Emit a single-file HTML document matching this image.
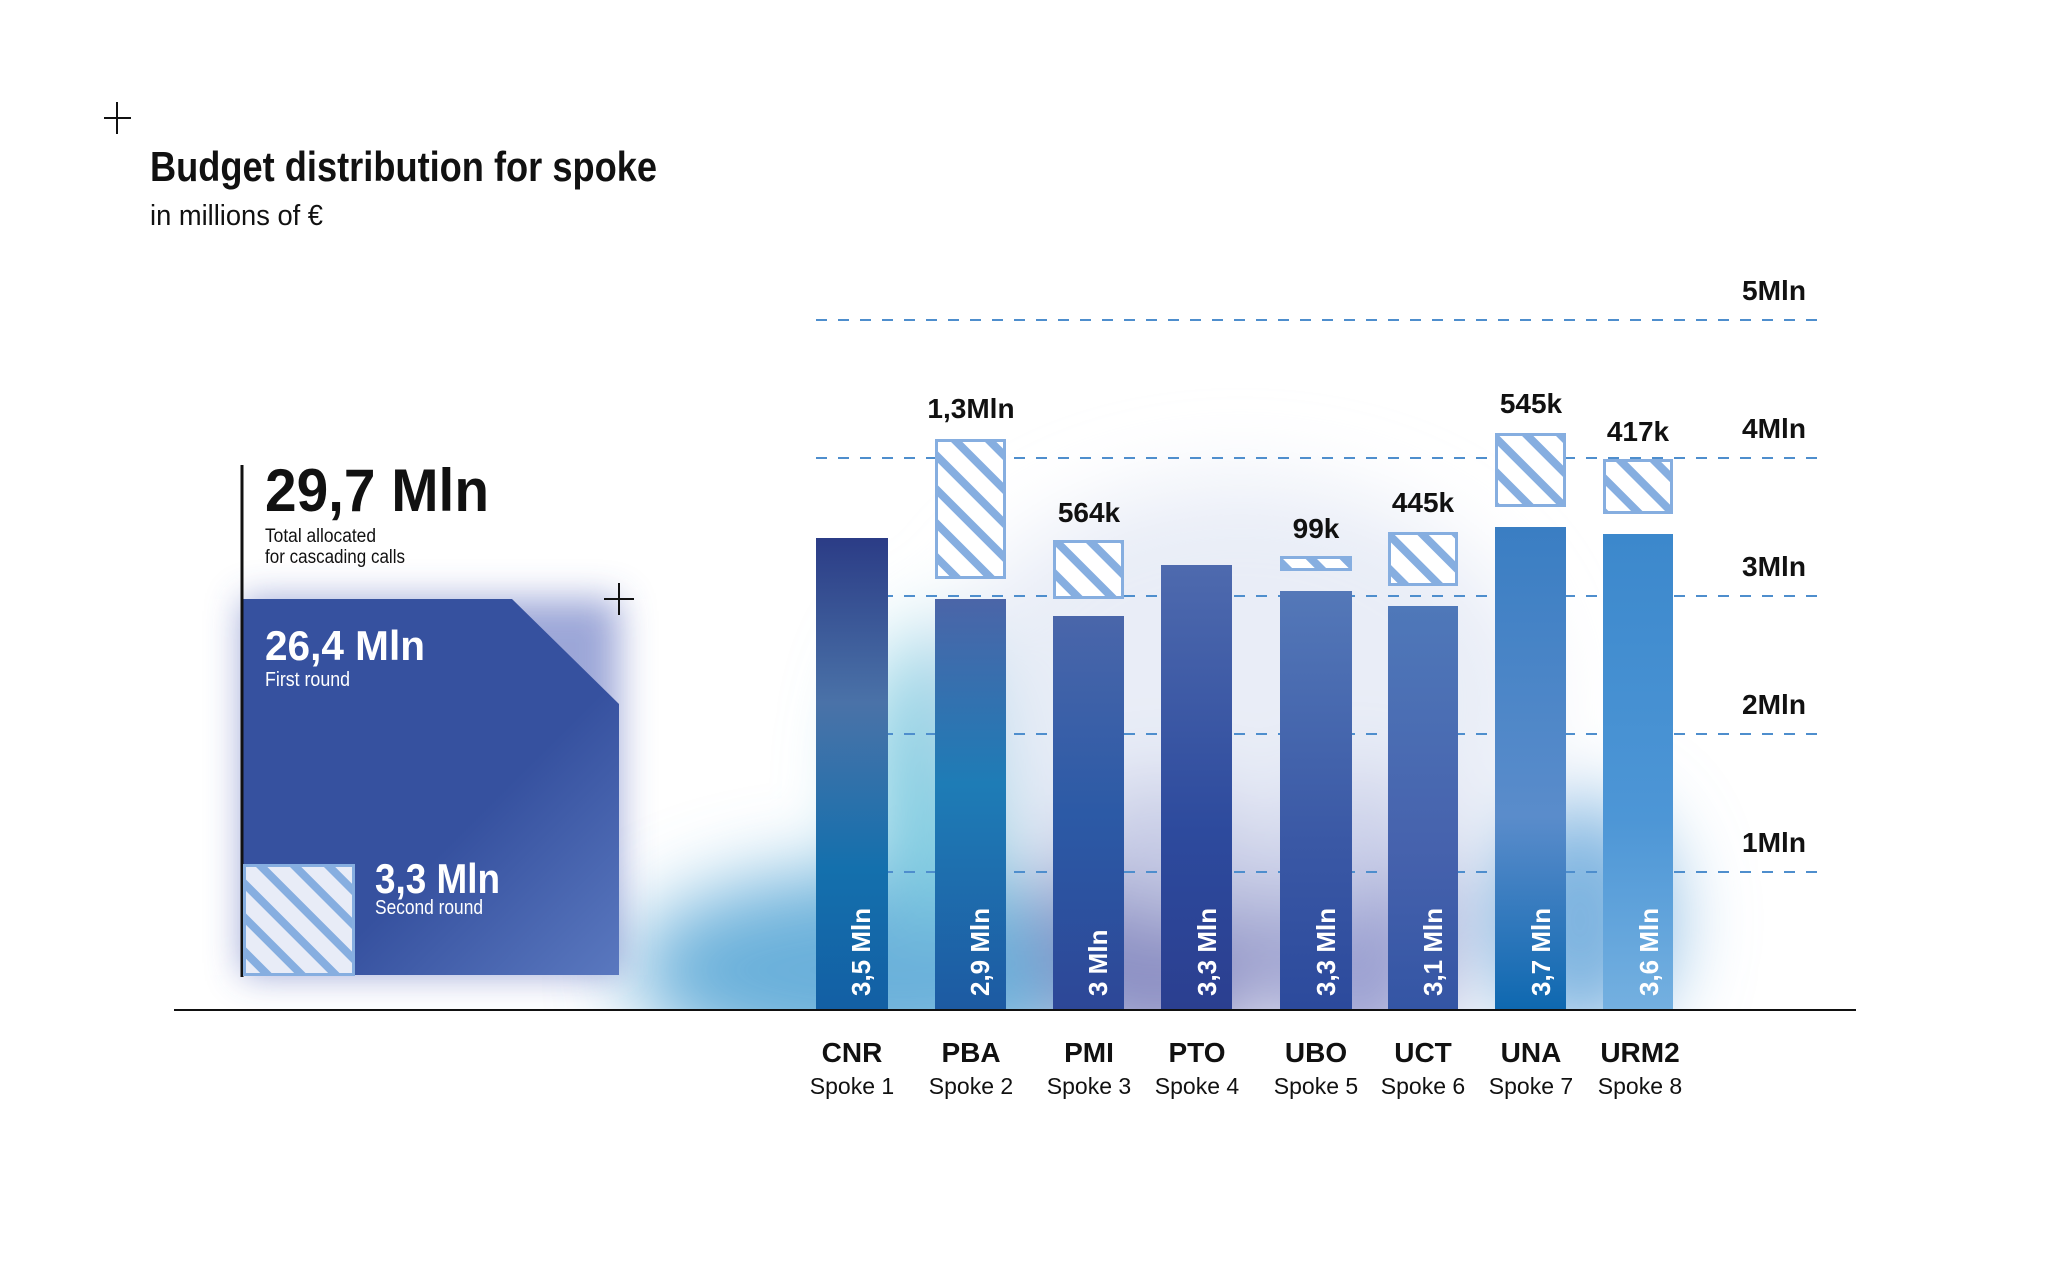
<!DOCTYPE html>
<html><head><meta charset="utf-8"><style>
html,body{margin:0;padding:0;background:#fff;}
svg{display:block;}
text{font-family:"Liberation Sans",sans-serif;}
</style></head><body>
<svg width="2048" height="1264" viewBox="0 0 2048 1264" xmlns="http://www.w3.org/2000/svg">
<defs>
<filter id="b40" x="-50%" y="-50%" width="200%" height="200%"><feGaussianBlur stdDeviation="40"/></filter>
<filter id="b20" x="-50%" y="-50%" width="200%" height="200%"><feGaussianBlur stdDeviation="18"/></filter>
<clipPath id="above"><rect x="0" y="0" width="2048" height="1010"/></clipPath>
<pattern id="hatch" patternUnits="userSpaceOnUse" width="24" height="24" patternTransform="rotate(-45)">
<rect width="24" height="24" fill="#ffffff"/><rect width="8" height="24" fill="#86aee0"/>
</pattern>
<pattern id="hatch2" patternUnits="userSpaceOnUse" width="24" height="24" patternTransform="rotate(-45)">
<rect width="24" height="24" fill="#e8ecf7"/><rect width="8" height="24" fill="#86aee0"/>
</pattern>
<linearGradient id="gCNR" x1="0" y1="0" x2="0" y2="1"><stop offset="0" stop-color="#2b3c86"/><stop offset="0.35" stop-color="#4a72a8"/><stop offset="0.7" stop-color="#1470ad"/><stop offset="1" stop-color="#135fa4"/></linearGradient>
<linearGradient id="gPBA" x1="0" y1="0" x2="0" y2="1"><stop offset="0" stop-color="#4b65a8"/><stop offset="0.45" stop-color="#1e7cb6"/><stop offset="1" stop-color="#1d5aa2"/></linearGradient>
<linearGradient id="gPMI" x1="0" y1="0" x2="0" y2="1"><stop offset="0" stop-color="#4a66aa"/><stop offset="0.5" stop-color="#2c5aa6"/><stop offset="1" stop-color="#2d4797"/></linearGradient>
<linearGradient id="gPTO" x1="0" y1="0" x2="0" y2="1"><stop offset="0" stop-color="#4e6aae"/><stop offset="0.6" stop-color="#2d4a9d"/><stop offset="1" stop-color="#2b3f90"/></linearGradient>
<linearGradient id="gUBO" x1="0" y1="0" x2="0" y2="1"><stop offset="0" stop-color="#5478b8"/><stop offset="0.6" stop-color="#3a58a5"/><stop offset="1" stop-color="#2c4a9c"/></linearGradient>
<linearGradient id="gUCT" x1="0" y1="0" x2="0" y2="1"><stop offset="0" stop-color="#4f78b9"/><stop offset="0.6" stop-color="#4662ad"/><stop offset="1" stop-color="#3455a4"/></linearGradient>
<linearGradient id="gUNA" x1="0" y1="0" x2="0" y2="1"><stop offset="0" stop-color="#3a7ec3"/><stop offset="0.6" stop-color="#5a8ccb"/><stop offset="1" stop-color="#0e68b0"/></linearGradient>
<linearGradient id="gURM" x1="0" y1="0" x2="0" y2="1"><stop offset="0" stop-color="#3c88cc"/><stop offset="0.6" stop-color="#4d96d6"/><stop offset="1" stop-color="#74b0e0"/></linearGradient>
<linearGradient id="gBox" x1="0" y1="0" x2="1" y2="1"><stop offset="0.6" stop-color="#36519f"/><stop offset="1" stop-color="#5a78bf"/></linearGradient>
</defs>

<!-- background glows -->
<g clip-path="url(#above)">
<g filter="url(#b40)">
<ellipse cx="880" cy="970" rx="250" ry="100" fill="#6ab0da"/>
<ellipse cx="935" cy="780" rx="70" ry="150" fill="#7dcbe0"/>
<ellipse cx="1160" cy="920" rx="120" ry="140" fill="#8b8ec3"/>
<ellipse cx="1360" cy="920" rx="90" ry="150" fill="#9a9fd0"/>
<ellipse cx="1580" cy="920" rx="90" ry="120" fill="#7eb4e0"/>
<ellipse cx="1240" cy="700" rx="300" ry="220" fill="#dfe6f4" opacity="0.7"/>
</g>
</g>
<rect x="242" y="599" width="377" height="376" fill="#3a50b0" filter="url(#b20)" opacity="0.5"/>

<!-- gridlines -->
<g stroke="#4e8ecd" stroke-width="2" stroke-dasharray="11 11">
<line x1="816" y1="320" x2="1827" y2="320"/>
<line x1="816" y1="458" x2="1827" y2="458"/>
<line x1="816" y1="596" x2="1827" y2="596"/>
<line x1="816" y1="734" x2="1827" y2="734"/>
<line x1="816" y1="872" x2="1827" y2="872"/>
</g>
<g font-size="28" font-weight="bold" fill="#111">
<text x="1742" y="300" textLength="64" lengthAdjust="spacingAndGlyphs">5Mln</text>
<text x="1742" y="438" textLength="64" lengthAdjust="spacingAndGlyphs">4Mln</text>
<text x="1742" y="576" textLength="64" lengthAdjust="spacingAndGlyphs">3Mln</text>
<text x="1742" y="714" textLength="64" lengthAdjust="spacingAndGlyphs">2Mln</text>
<text x="1742" y="852" textLength="64" lengthAdjust="spacingAndGlyphs">1Mln</text>
</g>

<!-- bars -->
<rect x="816" y="538" width="72" height="472" fill="url(#gCNR)"/>
<rect x="935" y="599" width="71" height="411" fill="url(#gPBA)"/>
<rect x="1053" y="616" width="71" height="394" fill="url(#gPMI)"/>
<rect x="1161" y="565" width="71" height="445" fill="url(#gPTO)"/>
<rect x="1280" y="591" width="72" height="419" fill="url(#gUBO)"/>
<rect x="1388" y="606" width="70" height="404" fill="url(#gUCT)"/>
<rect x="1495" y="527" width="71" height="483" fill="url(#gUNA)"/>
<rect x="1603" y="534" width="70" height="476" fill="url(#gURM)"/>

<!-- hatched -->
<g stroke="#86aee0" stroke-width="3" fill="url(#hatch)">
<rect x="936.5" y="440.5" width="68" height="137"/>
<rect x="1054.5" y="541.5" width="68" height="56"/>
<rect x="1281.5" y="557.5" width="69" height="12"/>
<rect x="1389.5" y="533.5" width="67" height="51"/>
<rect x="1496.5" y="434.5" width="68" height="71"/>
<rect x="1604.5" y="460.5" width="67" height="52"/>
</g>
<g font-size="28" font-weight="bold" fill="#111" text-anchor="middle">
<text x="971" y="418">1,3Mln</text>
<text x="1089" y="522">564k</text>
<text x="1316" y="538">99k</text>
<text x="1423" y="512">445k</text>
<text x="1531" y="413">545k</text>
<text x="1638" y="441">417k</text>
</g>

<!-- rotated labels -->
<g font-size="26" font-weight="bold" fill="#fff">
<text transform="translate(870,996) rotate(-90)">3,5 Mln</text>
<text transform="translate(989,996) rotate(-90)">2,9 Mln</text>
<text transform="translate(1107,996) rotate(-90)">3 Mln</text>
<text transform="translate(1216,996) rotate(-90)">3,3 Mln</text>
<text transform="translate(1335,996) rotate(-90)">3,3 Mln</text>
<text transform="translate(1442,996) rotate(-90)">3,1 Mln</text>
<text transform="translate(1550,996) rotate(-90)">3,7 Mln</text>
<text transform="translate(1658,996) rotate(-90)">3,6 Mln</text>
</g>

<!-- axis -->
<line x1="174" y1="1010" x2="1856" y2="1010" stroke="#111" stroke-width="2"/>

<!-- category labels -->
<g text-anchor="middle" fill="#111">
<g font-size="28" font-weight="bold">
<text x="852" y="1062">CNR</text><text x="971" y="1062">PBA</text><text x="1089" y="1062">PMI</text><text x="1197" y="1062">PTO</text>
<text x="1316" y="1062">UBO</text><text x="1423" y="1062">UCT</text><text x="1531" y="1062">UNA</text><text x="1640" y="1062">URM2</text>
</g>
<g font-size="23">
<text x="852" y="1094">Spoke 1</text><text x="971" y="1094">Spoke 2</text><text x="1089" y="1094">Spoke 3</text><text x="1197" y="1094">Spoke 4</text>
<text x="1316" y="1094">Spoke 5</text><text x="1423" y="1094">Spoke 6</text><text x="1531" y="1094">Spoke 7</text><text x="1640" y="1094">Spoke 8</text>
</g>
</g>

<!-- title -->
<g stroke="#111" stroke-width="2">
<line x1="104" y1="118" x2="131" y2="118"/><line x1="117" y1="102" x2="117" y2="134"/>
<line x1="604" y1="599" x2="634" y2="599"/><line x1="619" y1="583" x2="619" y2="615"/>
</g>
<text x="150" y="181" font-size="42" font-weight="bold" fill="#111" textLength="507" lengthAdjust="spacingAndGlyphs">Budget distribution for spoke</text>
<text x="150" y="225" font-size="29" fill="#111" textLength="173" lengthAdjust="spacingAndGlyphs">in millions of €</text>

<!-- left summary -->
<path d="M242 599 L512 599 L619 704 L619 975 L242 975 Z" fill="url(#gBox)"/>
<line x1="242" y1="465" x2="242" y2="977" stroke="#111" stroke-width="3"/>
<text x="265" y="511" font-size="60" font-weight="bold" fill="#111" textLength="224" lengthAdjust="spacingAndGlyphs">29,7 Mln</text>
<text x="265" y="542" font-size="19" fill="#111" textLength="111" lengthAdjust="spacingAndGlyphs">Total allocated</text>
<text x="265" y="563" font-size="19" fill="#111" textLength="140" lengthAdjust="spacingAndGlyphs">for cascading calls</text>
<text x="265" y="660" font-size="42" font-weight="bold" fill="#fff" textLength="160" lengthAdjust="spacingAndGlyphs">26,4 Mln</text>
<text x="265" y="686" font-size="20" fill="#fff" textLength="85" lengthAdjust="spacingAndGlyphs">First round</text>
<rect x="244.5" y="865.5" width="109" height="109" fill="url(#hatch2)" stroke="#86aee0" stroke-width="3"/>
<text x="375" y="893" font-size="42" font-weight="bold" fill="#fff" textLength="125" lengthAdjust="spacingAndGlyphs">3,3 Mln</text>
<text x="375" y="914" font-size="20" fill="#fff" textLength="108" lengthAdjust="spacingAndGlyphs">Second round</text>
</svg>
</body></html>
